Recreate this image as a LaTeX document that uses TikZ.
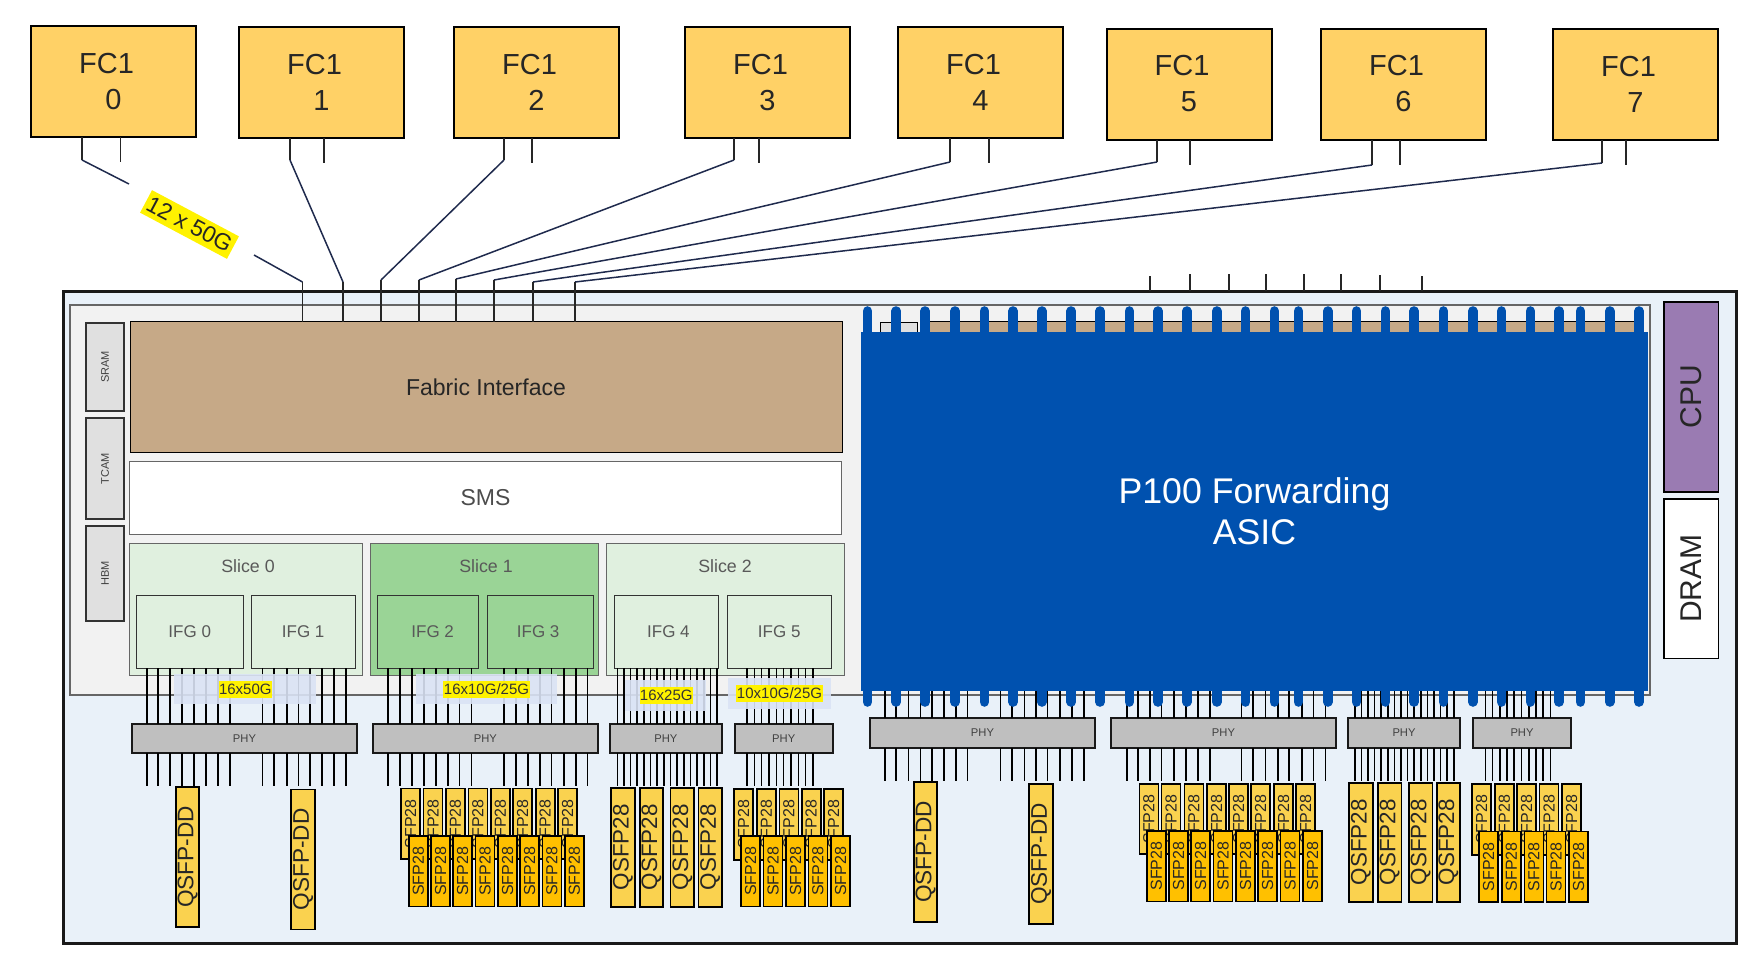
\documentclass[tikz,border=0pt]{standalone}
\usepackage{fontspec}
\setmainfont{Liberation Sans}
\usepackage{tikz}
\usetikzlibrary{positioning,calc}
\definecolor{fcfill}{HTML}{FFD166}
\definecolor{chassis}{HTML}{E9F1F9}
\definecolor{tray}{HTML}{F2F2F2}
\definecolor{brown}{HTML}{C6A987}
\definecolor{palegreen}{HTML}{E0F0DF}
\definecolor{deepgreen}{HTML}{9AD496}
\definecolor{asicblue}{HTML}{0051AF}
\definecolor{cpufill}{HTML}{9A7BB2}
\definecolor{qsfpfill}{HTML}{FAD24F}
\definecolor{sfpfill}{HTML}{FFC000}
\definecolor{navy}{HTML}{1F2A4D}
\definecolor{wash}{HTML}{DAE3F5}
\begin{document}
\begin{tikzpicture}[x=1pt,y=-1pt,every node/.style={inner sep=0pt,outer sep=0pt}]
\tikzstyle{fc} = [draw=black,line width=2pt,fill=fcfill,minimum width=165,minimum height=111,align=center,font=\fontsize{29}{36}\selectfont,text=black!85]
\tikzstyle{mem} = [draw=black!80,line width=1.6pt,fill=black!12,minimum width=37.5,font=\fontsize{11}{13}\selectfont,text=black!75]
\tikzstyle{slice} = [draw=black!60,line width=.8pt,minimum height=132]
\tikzstyle{ifg} = [draw=black!80,line width=.8pt,minimum height=73,font=\fontsize{17}{20}\selectfont,text=black!65]
\tikzstyle{slicetext} = [font=\fontsize{17.8}{20}\selectfont,text=black!65]
\tikzstyle{phy} = [draw=black!90,line width=1.8pt,fill=black!25,font=\fontsize{11.2}{13}\selectfont,text=black!75]
\tikzstyle{wire} = [line width=1.6pt,black]
\tikzstyle{stub} = [line width=1.5pt,black!85]
\tikzstyle{uplink} = [line width=1.5pt,navy]
\tikzstyle{pin} = [line width=9.6pt,line cap=round,asicblue]
\tikzstyle{washbox} = [fill=wash,fill opacity=.9]
\tikzstyle{speed} = [fill=yellow,font=\fontsize{15}{17}\selectfont,text=black!80]
\tikzstyle{qsfpdd} = [draw=black,line width=1.6pt,fill=qsfpfill,rotate=90,minimum width=140,minimum height=23.5,font=\fontsize{22.6}{24}\selectfont,text=black!85]
\tikzstyle{qsfp} = [draw=black,line width=1.6pt,fill=qsfpfill,rotate=90,minimum width=119.3,minimum height=23.5,font=\fontsize{22.4}{24}\selectfont,text=black!85]
\tikzstyle{sfpup} = [draw=black,line width=1.6pt,fill=qsfpfill,rotate=90,minimum width=70.5,minimum height=19,font=\fontsize{16}{18}\selectfont,text=black!85]
\tikzstyle{sfplow} = [draw=black,line width=1.6pt,fill=sfpfill,rotate=90,minimum width=70.5,minimum height=19,font=\fontsize{16}{18}\selectfont,text=black!85]

\useasboundingbox (0,0) rectangle (1762,962);

% chassis and tray
\node[draw=black!90,line width=3pt,fill=chassis,minimum width=1673,minimum height=652] (chassis) at (899.5,617) {};
\node[draw=black!60,line width=2pt,fill=tray,minimum width=1580,minimum height=390] (tray) at (860,500) {};

% fabric modules
\node[fc] (fc0) at (113.5,81.5)  {FC1\hspace*{14pt}\\0};
\node[fc] (fc1) at (321.5,82.5)  {FC1\hspace*{14pt}\\1};
\node[fc] (fc2) at (536.5,82.5)  {FC1\hspace*{14pt}\\2};
\node[fc] (fc3) at (767.5,82.5)  {FC1\hspace*{14pt}\\3};
\node[fc] (fc4) at (980.5,82.5)  {FC1\hspace*{14pt}\\4};
\node[fc] (fc5) at (1189,84)     {FC1\hspace*{14pt}\\5};
\node[fc] (fc6) at (1403.5,84)   {FC1\hspace*{14pt}\\6};
\node[fc] (fc7) at (1635.5,84)   {FC1\hspace*{14pt}\\7};

% left half
\node[mem,minimum height=88]  (sram) at (105,367)   {\rotatebox{90}{SRAM}};
\node[mem,minimum height=101] (tcam) at (105,468.5) {\rotatebox{90}{TCAM}};
\node[mem,minimum height=95]  (hbm)  at (105,573.5) {\rotatebox{90}{HBM}};
\node[draw=black,line width=1pt,fill=brown,minimum width=712,minimum height=131,font=\fontsize{23}{26}\selectfont,text=black!85] (fabric) at (486,387) {Fabric Interface};
\node[draw=black!60,line width=1pt,fill=white,minimum width=712,minimum height=73,font=\fontsize{23}{26}\selectfont,text=black!70] (sms) at (485.5,498) {SMS};

\node[slice,fill=palegreen,minimum width=233] (slice0) at (246,609)   {};
\node[slice,fill=deepgreen,minimum width=228] (slice1) at (484,609)   {};
\node[slice,fill=palegreen,minimum width=238] (slice2) at (725.6,609) {};
\node[slicetext] (slicetext0) at (248,566.5) {Slice 0};
\node[slicetext] (slicetext1) at (486,566.5) {Slice 1};
\node[slicetext] (slicetext2) at (725,566.5) {Slice 2};
\node[ifg,fill=palegreen,minimum width=107.5] (ifg0) at (189.75,631.5) {IFG 0};
\node[ifg,fill=palegreen,minimum width=103.6] (ifg1) at (303.2,631.5)  {IFG 1};
\node[ifg,fill=deepgreen,minimum width=101]   (ifg2) at (428.2,631.5)  {\hspace*{9pt}IFG 2};
\node[ifg,fill=deepgreen,minimum width=106]   (ifg3) at (540.7,631.5)  {IFG 3\hspace*{5pt}};
\node[ifg,fill=palegreen,minimum width=103.8] (ifg4) at (666.4,631.5)  {\hspace*{4pt}IFG 4};
\node[ifg,fill=palegreen,minimum width=103.7] (ifg5) at (779.2,631.5)  {IFG 5};

\node[phy,minimum width=225,minimum height=29]   (phy0) at (244.5,738.5)  {PHY};
\node[phy,minimum width=225.4,minimum height=29] (phy1) at (485.3,738.5)  {PHY};
\node[phy,minimum width=111.7,minimum height=29] (phy2) at (665.85,738.5) {PHY};
\node[phy,minimum width=98.2,minimum height=29]  (phy3) at (783.7,738.5)  {PHY};

% right half
\node[draw=black,line width=1pt,fill=black!12,minimum width=37.5,minimum height=30] (sramb) at (898.75,337) {};
\node[draw=black,line width=1pt,fill=brown,minimum width=708,minimum height=30] (fabricb) at (1283,336) {};
\node[fill=asicblue,minimum width=787,minimum height=359,align=center,text=white,font=\fontsize{35.7}{41}\selectfont] (asic) at (1254.5,511.5) {P100 Forwarding\\ASIC};
\node[draw=black,line width=1.6pt,fill=cpufill,minimum width=54.4,minimum height=190.3,font=\fontsize{30}{32}\selectfont,text=black!85] (cpu) at (1691.2,396.85) {\rotatebox{90}{\raisebox{-2pt}{CPU}}};
\node[draw=black,line width=1.2pt,fill=white,minimum width=54.4,minimum height=159.5,font=\fontsize{30}{32}\selectfont,text=black!85] (dram) at (1691.2,578.75) {\rotatebox{90}{\raisebox{-2pt}{DRAM}}};

\node[phy,minimum width=225,minimum height=30] (phy4) at (982.5,732.85)  {PHY};
\node[phy,minimum width=225,minimum height=30] (phy5) at (1223.5,732.85) {PHY};
\node[phy,minimum width=112,minimum height=30] (phy6) at (1404,732.85)   {PHY};
\node[phy,minimum width=98,minimum height=30]  (phy7) at (1522,732.85)   {PHY};

% wires, IFG to PHY to ports
\foreach \x in {147,157.7,170,182,194,206,218,230}{
  \draw[wire] (\x,0 |- ifg0.south) -- (\x,0 |- phy0.north);
  \draw[wire] (\x,0 |- phy0.south) -- ++(0,33);}
\foreach \x in {262.6,274,287,298.5,310,322,334,345.7}{
  \draw[wire] (\x,0 |- ifg1.south) -- (\x,0 |- phy0.north);
  \draw[wire] (\x,0 |- phy0.south) -- ++(0,33);}
\foreach \x in {388,400,412,424,436,448,459.6,471.4}{
  \draw[wire] (\x,0 |- ifg2.south) -- (\x,0 |- phy1.north);
  \draw[wire] (\x,0 |- phy1.south) -- ++(0,33);}
\foreach \x in {504,515.7,528,540,551.6,564,575.8,587.5}{
  \draw[wire] (\x,0 |- ifg3.south) -- (\x,0 |- phy1.north);
  \draw[wire] (\x,0 |- phy1.south) -- ++(0,33);}
\foreach \i [evaluate=\i as \x using 617.3+\i*6.66] in {0,...,15}{
  \draw[wire] (\x,0 |- ifg4.south) -- (\x,0 |- phy2.north);
  \draw[wire] (\x,0 |- phy2.south) -- ++(0,33);}
\foreach \i [evaluate=\i as \x using 747+\i*7.33] in {0,...,9}{
  \draw[wire] (\x,0 |- ifg5.south) -- (\x,0 |- phy3.north);
  \draw[wire] (\x,0 |- phy3.south) -- ++(0,33);}
\foreach \x in {884.7,895.7,908.3,920.4,932,944,956,967.6,1000.4,1012,1024.6,1036,1047.6,1060,1071.7,1083.8}{
  \draw[wire] (\x,0 |- asic.south) -- (\x,0 |- phy4.north);
  \draw[wire] (\x,0 |- phy4.south) -- ++(0,33);}
\foreach \x in {1127,1138,1150,1161.5,1174,1185.7,1197.7,1210,1241.5,1253,1265.6,1277.7,1289,1302,1313.4,1325.5}{
  \draw[wire] (\x,0 |- asic.south) -- (\x,0 |- phy5.north);
  \draw[wire] (\x,0 |- phy5.south) -- ++(0,33);}
\foreach \i [evaluate=\i as \x using 1354.8+\i*6.6] in {0,...,15}{
  \draw[wire] (\x,0 |- asic.south) -- (\x,0 |- phy6.north);
  \draw[wire] (\x,0 |- phy6.south) -- ++(0,33);}
\foreach \i [evaluate=\i as \x using 1485.4+\i*7.22] in {0,...,9}{
  \draw[wire] (\x,0 |- asic.south) -- (\x,0 |- phy7.north);
  \draw[wire] (\x,0 |- phy7.south) -- ++(0,33);}

% pins of the ASIC
\foreach \x in {867.5,896.2,925,955,984.3,1013,1041.8,1071.2,1100,1129.3,1158,1186.8,1216.7,1245.5,1274.3,1298.4,1327.8,1356.5,1385.3,1414,1443.4,1472.8,1501.5,1530.3,1559,1580.4,1609.7,1639}{
  \draw[pin] (\x,0 |- asic.north) -- ++(0,-21);
  \draw[pin] (\x,0 |- asic.south) -- ++(0,11);}

% speed labels
\node[washbox,minimum width=142,minimum height=30] (washa) at (245,689)     {};
\node[washbox,minimum width=141,minimum height=30] (washb) at (486.5,689)   {};
\node[washbox,minimum width=81,minimum height=31]  (washc) at (665.5,695.5) {};
\node[washbox,minimum width=103,minimum height=31] (washd) at (779.5,693.5) {};
\node[speed,minimum width=52.6,minimum height=17] (speeda) at (245.3,689.5)  {16x50G};
\node[speed,minimum width=87,minimum height=17]   (speedb) at (486.5,689.5)  {16x10G/25G};
\node[speed,minimum width=52.5,minimum height=17] (speedc) at (666.25,695.4) {16x25G};
\node[speed,minimum width=87,minimum height=17]   (speedd) at (779.5,693.5)  {10x10G/25G};

% uplinks
\coordinate (a0) at (82,160);
\coordinate (a1) at (290,160);
\coordinate (a2) at (504,160);
\coordinate (a3) at (734,160);
\coordinate (a4) at (950,162);
\coordinate (a5) at (1157,162);
\coordinate (a6) at (1372,165);
\coordinate (a7) at (1602,163);
\coordinate (b0) at (302.5,282);
\coordinate (b1) at (343,282);
\coordinate (b2) at (381,280);
\coordinate (b3) at (419,280);
\coordinate (b4) at (456,279);
\coordinate (b5) at (494,280);
\coordinate (b6) at (533,282);
\coordinate (b7) at (575,282);
\coordinate (g0) at (129,184);
\coordinate (g1) at (254,255);
\node[fill=yellow,rotate=-28,minimum width=98.4,minimum height=25.5,font=\fontsize{23}{25}\selectfont,text=black!85] (rate) at (189.5,224.5) {12 x 50G};

\draw[stub] (a0 |- fc0.south) -- (a0);
\draw[stub] (a1 |- fc1.south) -- (a1);
\draw[stub] (a2 |- fc2.south) -- (a2);
\draw[stub] (a3 |- fc3.south) -- (a3);
\draw[stub] (a4 |- fc4.south) -- (a4);
\draw[stub] (a5 |- fc5.south) -- (a5);
\draw[stub] (a6 |- fc6.south) -- (a6);
\draw[stub] (a7 |- fc7.south) -- (a7);
\draw[stub] (120.5,0 |- fc0.south) -- ++(0,25);
\draw[stub] (324,0 |- fc1.south) -- ++(0,25);
\draw[stub] (532,0 |- fc2.south) -- ++(0,25);
\draw[stub] (759,0 |- fc3.south) -- ++(0,25);
\draw[stub] (989,0 |- fc4.south) -- ++(0,25);
\draw[stub] (1190,0 |- fc5.south) -- ++(0,25);
\draw[stub] (1400,0 |- fc6.south) -- ++(0,25);
\draw[stub] (1626,0 |- fc7.south) -- ++(0,25);

\draw[uplink] (a0) -- (g0);
\draw[uplink] (g1) -- (b0);
\draw[uplink] (a1) -- (b1);
\draw[uplink] (a2) -- (b2);
\draw[uplink] (a3) -- (b3);
\draw[uplink] (a4) -- (b4);
\draw[uplink] (a5) -- (b5);
\draw[uplink] (a6) -- (b6);
\draw[uplink] (a7) -- (b7);
\foreach \n in {0,...,7}
  \draw[stub] (b\n) -- (b\n |- fabric.north);

% stubs above the right half
\foreach \x/\y in {1150/276,1190/274,1229/274,1266/274,1304/274,1341/274,1380/275,1422/276}
  \draw[stub] (\x,\y) -- (\x,0 |- chassis.north);

% ports, left half
\node[qsfpdd] (dda) at (187.5,856.85) {QSFP-DD};
\node[qsfpdd] (ddb) at (303,859.35)   {QSFP-DD};
\foreach \x [count=\i] in {410.5,433,455.3,477.8,500.3,522.5,545.2,567.5}
  \node[sfpup] (sfpa\i) at (\x,823.85) {SFP28};
\foreach \x [count=\i] in {418.3,440.5,462.5,485,507.5,529.5,551.8,574.3}
  \node[sfplow] (sfpb\i) at (\x,871.35) {SFP28};
\foreach \x [count=\i] in {623,651.5,682.3,710.2}
  \node[qsfp] (qsfpa\i) at (\x,847.35) {QSFP28};
\foreach \x [count=\i] in {743.5,766.3,788.8,811.2,833.7}
  \node[sfpup] (sfpc\i) at (\x,824.5) {SFP28};
\foreach \x [count=\i] in {750.5,773,795.5,817.8,840.5}
  \node[sfplow] (sfpd\i) at (\x,871.35) {SFP28};

% ports, right half
\node[qsfpdd] (ddc) at (925.5,852) {QSFP-DD};
\node[qsfpdd] (ddd) at (1041,854)  {QSFP-DD};
\foreach \x [count=\i] in {1148.8,1171,1193.8,1216.5,1238.5,1260.5,1283.5,1305.5}
  \node[sfpup] (sfpe\i) at (\x,819) {SFP28};
\foreach \x [count=\i] in {1156.3,1178.5,1200.7,1223,1245.5,1267.5,1290,1312.5}
  \node[sfplow] (sfpf\i) at (\x,866.2) {SFP28};
\foreach \x [count=\i] in {1361,1389.7,1420.75,1448.5}
  \node[qsfp] (qsfpb\i) at (\x,842.35) {QSFP28};
\foreach \x [count=\i] in {1481.5,1504.3,1526.5,1549,1571.5}
  \node[sfpup] (sfpg\i) at (\x,819.5) {SFP28};
\foreach \x [count=\i] in {1488.5,1511.3,1533.8,1556,1578.5}
  \node[sfplow] (sfph\i) at (\x,866.65) {SFP28};
\end{tikzpicture}
\end{document}
